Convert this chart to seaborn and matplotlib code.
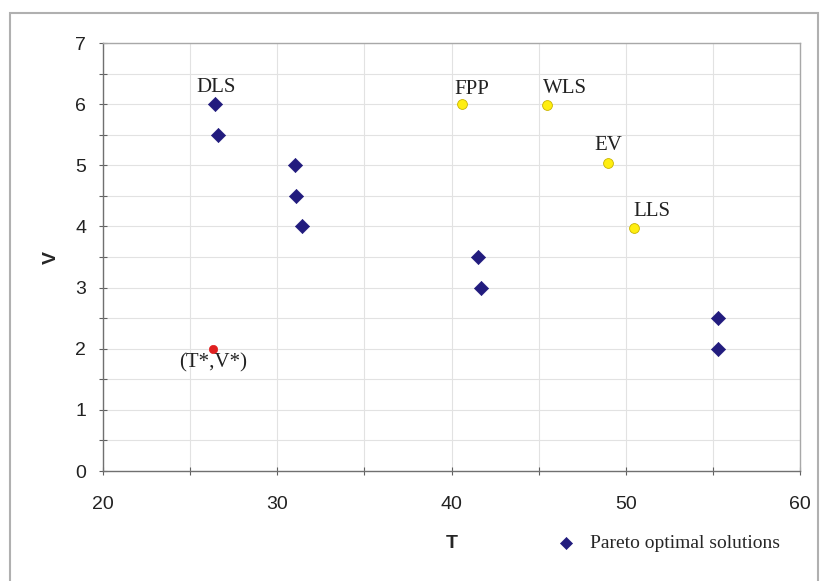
import pandas as pd
import seaborn as sns
import matplotlib.pyplot as plt
from matplotlib.ticker import MultipleLocator, FuncFormatter
from matplotlib.patches import Rectangle

# Pareto optimal solutions (T, V)
pareto_t = [26.4, 26.6, 31.0, 31.1, 31.4, 41.5, 41.7, 55.3, 55.3]
pareto_v = [6.0, 5.5, 5.0, 4.5, 4.0, 3.5, 3.0, 2.5, 2.0]

# Prioritization methods
method_names = ["FPP", "WLS", "EV", "LLS"]
method_t = [40.6, 45.5, 49.0, 50.5]
method_v = [6.0, 5.98, 5.03, 3.97]

# Ideal point
ideal_t = [26.3]
ideal_v = [2.0]

pareto_df = pd.DataFrame({"T": pareto_t, "V": pareto_v})
method_df = pd.DataFrame({"T": method_t, "V": method_v, "name": method_names})
ideal_df = pd.DataFrame({"T": ideal_t, "V": ideal_v})

sns.set_style("white")
serif = ["Liberation Serif", "DejaVu Serif"]
sans = ["Liberation Sans", "DejaVu Sans"]

fig = plt.figure(figsize=(8.22, 5.81), dpi=100)
ax = fig.add_axes([103 / 822, 1 - 471 / 581, 697 / 822, 428 / 581])

sns.scatterplot(data=pareto_df, x="T", y="V", marker="D", s=52, color="#221C7E",
                edgecolor="#221C7E", linewidth=0.5, label="Pareto optimal solutions", ax=ax, zorder=3)
sns.scatterplot(data=method_df, x="T", y="V", marker="o", s=50, color="#FFEE10",
                edgecolor="#C8B400", linewidth=0.6, ax=ax, zorder=3, legend=False)
sns.scatterplot(data=ideal_df, x="T", y="V", marker="o", s=36, color="#E02020",
                edgecolor="#E02020", linewidth=0.5, ax=ax, zorder=3, legend=False)

# Point labels
ax.annotate("DLS", (pareto_t[0], pareto_v[0]), xytext=(2, 7), textcoords="offset pixels",
            ha="center", va="bottom", fontsize=15, family=serif, color="#222222")
offsets = {"FPP": (10, 5, "center"), "WLS": (-4, 7, "left"), "EV": (0, 8, "center"), "LLS": (-1, 7, "left")}
for name, t, v in zip(method_names, method_t, method_v):
    dx, dy, ha = offsets[name]
    ax.annotate(name, (t, v), xytext=(dx, dy), textcoords="offset pixels",
                ha=ha, va="bottom", fontsize=15, family=serif, color="#222222")
ax.annotate("(T*,V*)", (ideal_t[0], ideal_v[0]), xytext=(0, -5), textcoords="offset pixels",
            ha="center", va="top", fontsize=15, family=serif, color="#222222")

# Axes, ticks and grid
ax.set_xlim(20, 60)
ax.set_ylim(0, 7)
ax.xaxis.set_major_locator(MultipleLocator(5))
ax.yaxis.set_major_locator(MultipleLocator(0.5))
ax.xaxis.set_major_formatter(FuncFormatter(lambda x, p: f"{x:.0f}" if x % 10 == 0 else ""))
ax.yaxis.set_major_formatter(FuncFormatter(lambda y, p: f"{y:.0f}" if y % 1 == 0 else ""))
ax.grid(True, color="#e2e2e2", linewidth=0.8)
ax.tick_params(axis="both", direction="inout", length=6, width=0.8, color="#606060",
               labelsize=14, labelcolor="#222222", bottom=True, left=True)
ax.tick_params(axis="x", pad=15)
ax.tick_params(axis="y", pad=9)
for lab in ax.get_xticklabels() + ax.get_yticklabels():
    lab.set_family(sans)

for side in ["left", "bottom"]:
    ax.spines[side].set_color("#707070")
    ax.spines[side].set_linewidth(1.0)
for side in ["top", "right"]:
    ax.spines[side].set_color("#a8a8a8")
    ax.spines[side].set_linewidth(1.0)

ax.set_xlabel("T", fontsize=14, fontweight="bold", family=sans, labelpad=16)
ax.set_ylabel("V", fontsize=14, fontweight="bold", family=sans, labelpad=11)

ax.legend(loc="center left", bbox_to_anchor=(537 / 822, 1 - 543 / 581), bbox_transform=fig.transFigure,
          frameon=False, prop={"family": serif, "size": 14}, handletextpad=0.25, borderpad=0,
          markerscale=0.85)

# Outer chart frame
fig.patches.append(Rectangle((10 / 822, -0.02), 808 / 822, 1 - 13 / 581 + 0.02,
                             transform=fig.transFigure, fill=False, edgecolor="#b0b0b0", linewidth=1.5))

fig.savefig("out.png", dpi=100)
